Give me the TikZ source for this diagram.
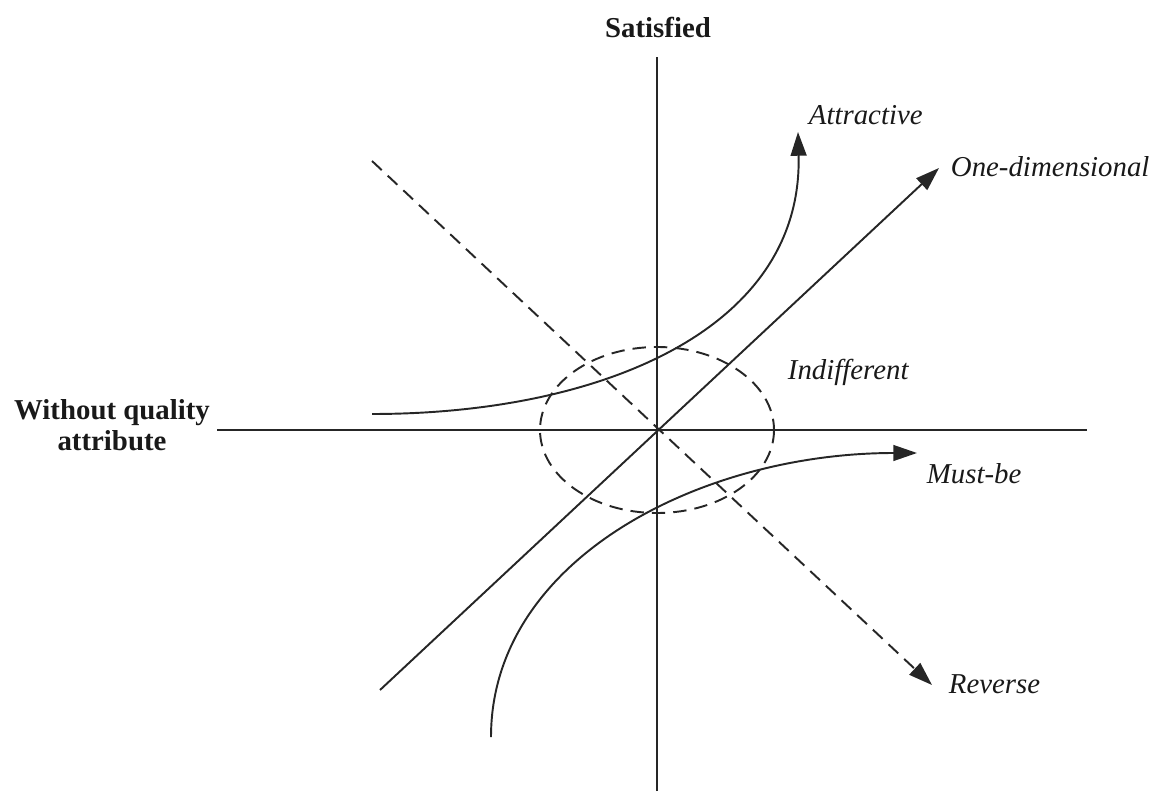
\documentclass[tikz,border=0pt]{standalone}
\usepackage{fontspec}
\setmainfont{Liberation Serif}
\usetikzlibrary{arrows.meta}

\begin{document}
\begin{tikzpicture}[x=0.02cm,y=-0.02cm,line width=1.1pt,draw=black!85,
    >={Triangle[length=13.5pt,width=9pt]},
    lbl/.style={inner sep=0pt,text=black!90,font=\fontsize{16.4}{17}\selectfont\itshape},
    axlbl/.style={inner sep=0pt,align=center,text=black!90,font=\fontsize{16.4}{17.3}\selectfont\bfseries},
    dsh/.style={dash pattern=on 7.6pt off 4.6pt}]
  \useasboundingbox (0,0) rectangle (1158,793);
  % ejes
  \coordinate (O) at (657,430);
  \coordinate (ytop) at (657,57);
  \coordinate (ybot) at (657,791);
  \coordinate (xl) at (217,430);
  \coordinate (xr) at (1087,430);
  \draw (xl) -- (xr);
  \draw (ybot) -- (ytop);
  \node[axlbl,anchor=base] (sat) at (658,38) {Satisfied};
  \node[axlbl,anchor=base] (woq) at (112,450) {Without quality\\attribute};
  % zona indiferente
  \draw[dsh] (O) ellipse [x radius=117,y radius=83];
  \node[lbl,anchor=base west] (ind) at (787,379) {Indifferent};
  % unidimensional
  \coordinate (od0) at (380,690);
  \coordinate (od1) at (939,168);
  \draw[->] (od0) -- (od1);
  \node[lbl,anchor=base west] (oned) at (950,177) {One-dimensional};
  % inverso
  \coordinate (rv0) at (372,161);
  \coordinate (rv1) at (932,685);
  \draw[->,dsh] (rv0) -- (rv1);
  \node[lbl,anchor=base west] (rev) at (948,693) {Reverse};
  % atractivo
  \coordinate (at0) at (372,414);
  \coordinate (at1) at (798,132);
  \draw[->] (at0) .. controls (600,414) and (803,330) .. (at1);
  \node[lbl,anchor=base west] (attr) at (808,125) {Attractive};
  % obligatorio
  \coordinate (mb0) at (491,737);
  \coordinate (mb1) at (917,453);
  \draw[->] (mb0) .. controls (491,560) and (700,453) .. (mb1);
  \node[lbl,anchor=base west] (must) at (926,483) {Must-be};
\end{tikzpicture}
\end{document}
